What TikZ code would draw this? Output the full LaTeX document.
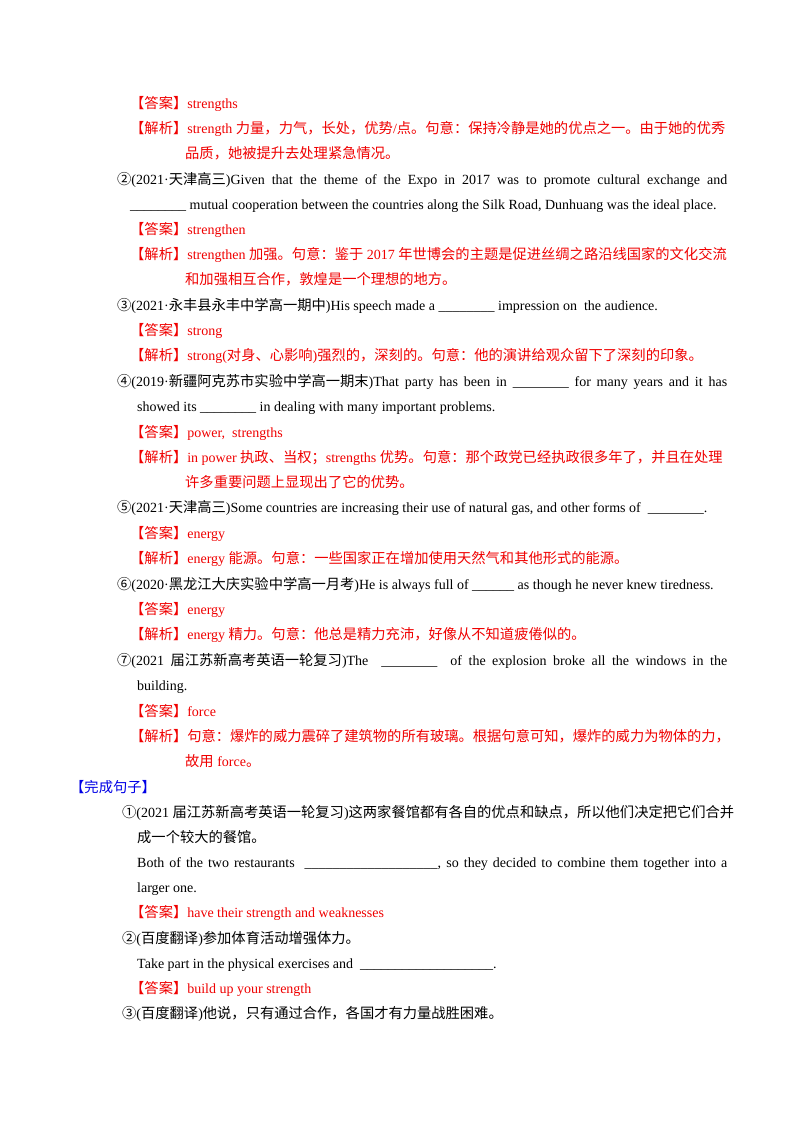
\documentclass[tikz,border=0pt]{standalone}
\usepackage{fontspec}
\setmainfont{Liberation Serif}
\newfontfamily\cjk[Scale=1.02]{Noto Sans CJK SC}
\XeTeXinterchartokenstate=1
\newXeTeXintercharclass\cjkclass
\newcount\cc
\def\setrange#1#2{\cc=#1\relax\loop\XeTeXcharclass\cc=\cjkclass\ifnum\cc<#2\advance\cc 1\repeat}
\setrange{"4E00}{"9FFF}
\setrange{"3000}{"303F}
\setrange{"FF00}{"FFEF}
\setrange{"2460}{"2473}
\XeTeXinterchartoks 0 \cjkclass={\begingroup\cjk}
\XeTeXinterchartoks 4095 \cjkclass={\begingroup\cjk}
\XeTeXinterchartoks \cjkclass 0={\endgroup}
\XeTeXinterchartoks \cjkclass 4095={\endgroup}
\definecolor{ansred}{RGB}{240,0,0}
\definecolor{ansblue}{RGB}{0,0,230}
\tikzset{t/.style={anchor=base west,inner sep=0pt,font=\fontsize{14}{16}\selectfont},
 r/.style={t,text=ansred}, b/.style={t,text=ansblue}}
\begin{document}
\begin{tikzpicture}[x=1pt,y=-1pt]
\useasboundingbox[fill=white] (0,0) rectangle (800,1132);
\node[r] (l1) at (130,108) {【答案】strengths};
\node[r] (l2) at (130,133) {【解析】strength 力量，力气，长处，优势/点。句意：保持冷静是她的优点之一。由于她的优秀};
\node[r] (l3) at (185,158) {品质，她被提升去处理紧急情况。};
\node[t] (l4) at (117,184) {\hbox to 610pt{②(2021·天津高三)Given that the theme of the Expo in 2017 was to promote cultural exchange and}};
\node[t] (l5) at (130,209) {\_\_\_\_\_\_\_\_ mutual cooperation between the countries along the Silk Road, Dunhuang was the ideal place.};
\node[r] (l6) at (130,234) {【答案】strengthen};
\node[r] (l7) at (130,259) {【解析】strengthen 加强。句意：鉴于 2017 年世博会的主题是促进丝绸之路沿线国家的文化交流};
\node[r] (l8) at (185,284) {和加强相互合作，敦煌是一个理想的地方。};
\node[t] (l9) at (117,310) {③(2021·永丰县永丰中学高一期中)His speech made a \_\_\_\_\_\_\_\_ impression on\ \ the audience.};
\node[r] (l10) at (130,335) {【答案】strong};
\node[r] (l11) at (130,360) {【解析】strong(对身、心影响)强烈的，深刻的。句意：他的演讲给观众留下了深刻的印象。};
\node[t] (l12) at (117,386) {\hbox to 610pt{④(2019·新疆阿克苏市实验中学高一期末)That party has been in \_\_\_\_\_\_\_\_ for many years and it has}};
\node[t] (l13) at (137,411) {showed its \_\_\_\_\_\_\_\_ in dealing with many important problems.};
\node[r] (l14) at (130,437) {【答案】power,\ \ strengths};
\node[r] (l15) at (130,462) {【解析】in power 执政、当权；strengths 优势。句意：那个政党已经执政很多年了，并且在处理};
\node[r] (l16) at (185,487) {许多重要问题上显现出了它的优势。};
\node[t] (l17) at (117,512) {⑤(2021·天津高三)Some countries are increasing their use of natural gas, and other forms of\ \ \_\_\_\_\_\_\_\_.};
\node[r] (l18) at (130,538) {【答案】energy};
\node[r] (l19) at (130,563) {【解析】energy 能源。句意：一些国家正在增加使用天然气和其他形式的能源。};
\node[t] (l20) at (117,589) {⑥(2020·黑龙江大庆实验中学高一月考)He is always full of \_\_\_\_\_\_ as though he never knew tiredness.};
\node[r] (l21) at (130,614) {【答案】energy};
\node[r] (l22) at (130,639) {【解析】energy 精力。句意：他总是精力充沛，好像从不知道疲倦似的。};
\node[t] (l23) at (117,665) {\hbox to 610pt{⑦(2021 届江苏新高考英语一轮复习)The \ \_\_\_\_\_\_\_\_ \ of the explosion broke all the windows in the}};
\node[t] (l24) at (137,690) {building.};
\node[r] (l25) at (130,716) {【答案】force};
\node[r] (l26) at (130,741) {【解析】句意：爆炸的威力震碎了建筑物的所有玻璃。根据句意可知，爆炸的威力为物体的力，};
\node[r] (l27) at (185,766) {故用 force。};
\node[b] (l28) at (70,792) {【完成句子】};
\node[t] (l29) at (122,817) {①(2021 届江苏新高考英语一轮复习)这两家餐馆都有各自的优点和缺点，所以他们决定把它们合并};
\node[t] (l30) at (137,842) {成一个较大的餐馆。};
\node[t] (l31) at (137,867) {\hbox to 590pt{Both of the two restaurants \ \_\_\_\_\_\_\_\_\_\_\_\_\_\_\_\_\_\_\_, so they decided to combine them together into a}};
\node[t] (l32) at (137,892) {larger one.};
\node[r] (l33) at (130,917) {【答案】have their strength and weaknesses};
\node[t] (l34) at (122,943) {②(百度翻译)参加体育活动增强体力。};
\node[t] (l35) at (137,968) {Take part in the physical exercises and\ \ \_\_\_\_\_\_\_\_\_\_\_\_\_\_\_\_\_\_\_.};
\node[r] (l36) at (130,993) {【答案】build up your strength};
\node[t] (l37) at (122,1018) {③(百度翻译)他说，只有通过合作，各国才有力量战胜困难。};
\end{tikzpicture}
\end{document}
